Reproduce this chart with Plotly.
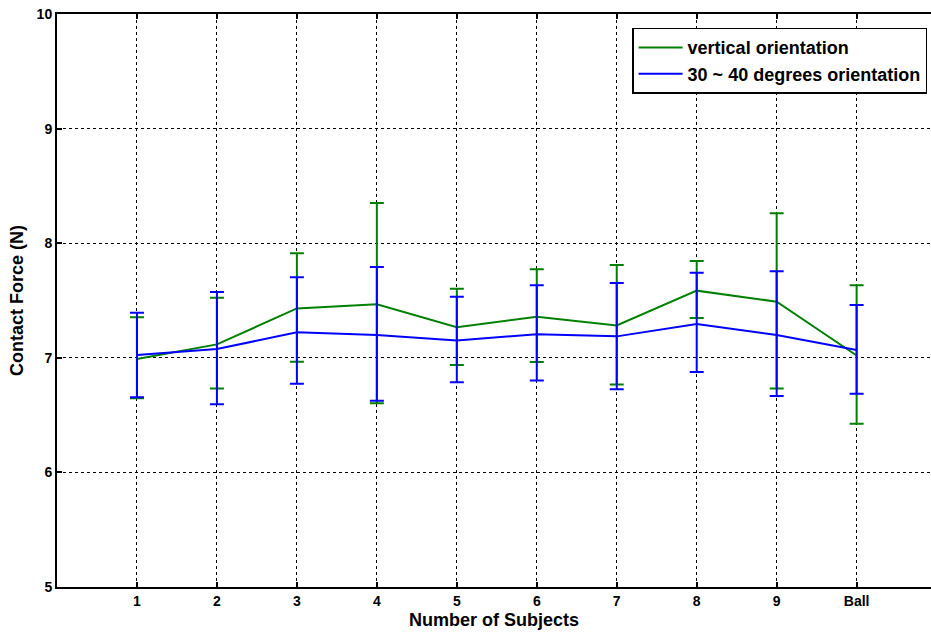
import plotly.graph_objects as go

categories = ["1", "2", "3", "4", "5", "6", "7", "8", "9", "Ball"]

vertical_mean = [6.99, 7.117, 7.431, 7.467, 7.266, 7.359, 7.283, 7.586, 7.49, 7.02]
vertical_upper = [7.353, 7.525, 7.912, 8.351, 7.603, 7.772, 7.81, 7.845, 8.261, 7.632]
vertical_lower = [6.647, 6.733, 6.966, 6.603, 6.937, 6.963, 6.766, 7.347, 6.733, 6.425]

angled_mean = [7.024, 7.077, 7.222, 7.199, 7.152, 7.205, 7.187, 7.295, 7.199, 7.068]
angled_upper = [7.394, 7.574, 7.702, 7.792, 7.533, 7.632, 7.653, 7.743, 7.755, 7.461]
angled_lower = [6.655, 6.594, 6.774, 6.626, 6.786, 6.803, 6.725, 6.876, 6.667, 6.687]

y_ticks = [5, 6, 7, 8, 9, 10]

FONT = "Arial, Liberation Sans, sans-serif"


def series(name, mean, upper, lower, color):
    return go.Scatter(
        x=categories,
        y=mean,
        mode="lines",
        name=name,
        line=dict(color=color, width=2),
        error_y=dict(
            type="data",
            symmetric=False,
            array=[u - m for u, m in zip(upper, mean)],
            arrayminus=[m - l for m, l in zip(mean, lower)],
            color=color,
            thickness=2,
            width=7,
        ),
    )


fig = go.Figure()
fig.add_trace(series("vertical orientation", vertical_mean, vertical_upper, vertical_lower, "#008000"))
fig.add_trace(series("30 ~ 40 degrees orientation", angled_mean, angled_upper, angled_lower, "#0000ff"))

fig.update_layout(
    width=931,
    height=633,
    margin=dict(l=57, r=0, t=14, b=46),
    paper_bgcolor="white",
    plot_bgcolor="white",
    font=dict(family=FONT, color="black", size=14, weight="bold"),
    legend=dict(
        x=0.658,
        y=0.976,
        xanchor="left",
        yanchor="top",
        bgcolor="white",
        bordercolor="black",
        borderwidth=1.5,
        font=dict(family=FONT, size=18, color="black", weight="bold"),
        itemwidth=44,
        tracegroupgap=0,
    ),
    showlegend=True,
)

fig.update_xaxes(
    type="category",
    categoryorder="array",
    categoryarray=categories,
    range=[-1, 9.93],
    showline=True,
    linecolor="black",
    linewidth=2,
    mirror="ticks",
    ticks="inside",
    ticklen=5,
    tickwidth=2,
    tickcolor="black",
    showgrid=True,
    gridcolor="black",
    gridwidth=1,
    griddash="3px,3px",
    zeroline=False,
    tickfont=dict(family=FONT, size=14, color="black", weight="bold"),
    title=dict(text="Number of Subjects", font=dict(family=FONT, size=18, color="black", weight="bold"), standoff=6),
)

fig.update_yaxes(
    range=[5, 10],
    tickvals=y_ticks,
    ticktext=[str(v) for v in y_ticks],
    showline=True,
    linecolor="black",
    linewidth=2,
    mirror=False,
    ticks="inside",
    ticklen=5,
    tickwidth=2,
    tickcolor="black",
    showgrid=True,
    gridcolor="black",
    gridwidth=1,
    griddash="3px,3px",
    zeroline=False,
    tickfont=dict(family=FONT, size=14, color="black", weight="bold"),
    title=dict(text="Contact Force (N)", font=dict(family=FONT, size=18, color="black", weight="bold"), standoff=8),
)

fig.write_html("out.html")
